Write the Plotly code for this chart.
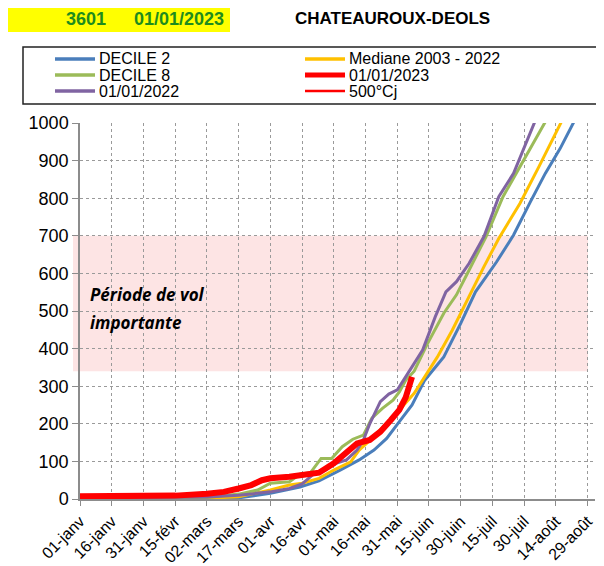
import plotly.graph_objects as go

# ---------------- data (day of year from 01-janv, cumulated degree-days) -------------
tick_days = [0, 15, 30, 45, 60, 75, 90, 105, 120, 135, 150, 165, 180, 195, 210, 225, 240]
tick_labels = ["01-janv", "16-janv", "31-janv", "15-févr", "02-mars", "17-mars", "01-avr",
               "16-avr", "01-mai", "16-mai", "31-mai", "15-juin", "30-juin", "15-juil",
               "30-juil", "14-août", "29-août"]

decile2_days = [0, 30, 60, 75, 90, 104, 113, 123, 132, 139, 145, 151, 157, 163, 172, 180,
                187, 197, 205, 213, 220, 227, 233, 236]
decile2_vals = [0, 0, 1, 3, 15, 32, 48, 77, 104, 130, 161, 206, 250, 316, 378, 467,
                551, 631, 702, 791, 866, 932, 999, 1030]

median_days = [0, 55, 60, 75, 90, 99, 105, 113, 120, 128, 132, 139, 145, 151, 158, 162,
               169, 176, 183, 191, 198, 208, 217, 227, 230]
median_vals = [0, 0, 2, 6, 24, 37, 42, 55, 77, 99, 130, 166, 201, 237, 281, 316,
               378, 449, 529, 618, 693, 786, 884, 1000, 1030]

decile8_days = [0, 60, 75, 84, 90, 99, 104, 109, 114, 119, 124, 129, 134, 138, 143, 148,
                151, 154, 158, 164, 172, 178, 184, 192, 200, 208, 214, 220, 222]
decile8_vals = [3, 4, 13, 24, 42, 46, 66, 70, 108, 108, 139, 159, 170, 215, 241, 263,
                285, 316, 340, 410, 494, 543, 609, 698, 804, 884, 946, 1003, 1030]

y2022_days = [0, 60, 75, 90, 99, 105, 110, 116, 121, 126, 131, 134, 137, 142, 146, 150,
              153, 157, 162, 168, 173, 178, 184, 191, 198, 205, 211, 215, 217]
y2022_vals = [3, 5, 10, 19, 28, 40, 64, 77, 95, 104, 130, 157, 200, 259, 279, 290,
              316, 350, 396, 485, 551, 578, 627, 698, 804, 866, 946, 1003, 1030]

y2023_days = [0, 45, 60, 68, 75, 81, 86, 90, 99, 104, 113, 120, 126, 131, 137, 142, 147,
              151, 154, 157]
y2023_vals = [7, 9, 14, 19, 28, 37, 50, 55, 59, 62, 70, 95, 126, 148, 157, 179, 210,
              237, 270, 325]

band_low, band_high = 340, 700
band_text = ["Période de vol", "importante"]

names = ["DECILE 2", "Mediane 2003 - 2022", "DECILE 8", "01/01/2023", "01/01/2022", "500°Cj"]
colors = ["#4A7EBB", "#FFC000", "#9BBB59", "#FF0000", "#8064A2", "#FF0000"]

# ---------------- layout geometry ----------------
# the page body has an 8px margin, so the figure is placed at (8, 8) in the window
OFF = 8
W, H = 604 - OFF, 566 - OFF
L, T = 80 - OFF, 123 - OFF
PW, PH = 515, 376
R, B = W - L - PW, H - T - PH
X_MAX = 243.5


def px(x):  # window pixel -> paper x
    return (x - OFF - L) / PW


def py(y):  # window pixel -> paper y
    return (T + PH - (y - OFF)) / PH


fig = go.Figure()

series = [
    (decile2_days, decile2_vals, 0, 3),
    (median_days, median_vals, 1, 3),
    (decile8_days, decile8_vals, 2, 3),
    (y2022_days, y2022_vals, 4, 3),
    (y2023_days, y2023_vals, 3, 6),
]
for d, v, i, w in series:
    fig.add_trace(go.Scatter(x=d, y=v, mode="lines", name=names[i],
                             line=dict(color=colors[i], width=w), showlegend=False))

shapes = []
# pink band
shapes.append(dict(type="rect", xref="paper", yref="y", x0=px(73), x1=px(588),
                   y0=band_low, y1=band_high, fillcolor="#FDE4E4", line=dict(width=0),
                   layer="below"))
# yellow title box
shapes.append(dict(type="rect", xref="paper", yref="paper", x0=px(3), x1=px(230),
                   y0=py(32), y1=py(5), fillcolor="#FFFF00", line=dict(width=0)))
# legend box
shapes.append(dict(type="rect", xref="paper", yref="paper", x0=px(23), x1=px(612),
                   y0=py(104), y1=py(47), line=dict(color="#222222", width=1.5),
                   fillcolor="rgba(0,0,0,0)"))

annotations = []
# legend entries (manual, two columns)
legend_pos = [(55, 59), (305, 59), (55, 75), (305, 75), (55, 91), (305, 91)]
for i, (lx, ly) in enumerate(legend_pos):
    lw = 5 if names[i] == "01/01/2023" else 3.5
    if names[i] == "500°Cj":
        lw = 2.5
    shapes.append(dict(type="line", xref="paper", yref="paper", x0=px(lx), x1=px(lx + 40),
                       y0=py(ly), y1=py(ly), line=dict(color=colors[i], width=lw)))
    annotations.append(dict(x=px(lx + 42), y=py(ly), xref="paper", yref="paper",
                            text=names[i], showarrow=False, xanchor="left", yanchor="middle",
                            font=dict(family="Liberation Sans, Arial", size=16, color="#000")))

annotations += [
    dict(x=px(86), y=py(19), xref="paper", yref="paper", text="<b>3601</b>", showarrow=False,
         xanchor="center", yanchor="middle",
         font=dict(family="Liberation Sans, Arial", size=18, color="#1E8C1E")),
    dict(x=px(179), y=py(19), xref="paper", yref="paper", text="<b>01/01/2023</b>",
         showarrow=False, xanchor="center", yanchor="middle",
         font=dict(family="Liberation Sans, Arial", size=18, color="#1E8C1E")),
    dict(x=px(392), y=py(19), xref="paper", yref="paper", text="<b>CHATEAUROUX-DEOLS</b>",
         showarrow=False, xanchor="center", yanchor="middle",
         font=dict(family="Liberation Sans, Arial", size=17, color="#000")),
]
for line_txt, ly in zip(band_text, [294, 322]):
    annotations.append(dict(x=px(88), y=py(ly), xref="paper", yref="paper",
                            text="<b><i>" + line_txt + "</i></b>", showarrow=False,
                            xanchor="left", yanchor="middle",
                            font=dict(family="Open Sans", size=17, color="#000")))

fig.update_layout(
    width=W, height=H,
    margin=dict(l=L, r=R, t=T, b=B, pad=0),
    paper_bgcolor="white", plot_bgcolor="rgba(0,0,0,0)",
    shapes=shapes, annotations=annotations, showlegend=False,
    xaxis=dict(range=[0, X_MAX], tickmode="array", tickvals=tick_days, ticktext=tick_labels,
               tickangle=-45, showgrid=True, gridcolor="#9A9A9A", griddash="dot", gridwidth=1,
               showline=True, linecolor="#8C8C8C", linewidth=1.5, ticks="outside",
               ticklen=5, tickcolor="#8C8C8C", zeroline=False, automargin=False,
               tickfont=dict(family="Liberation Sans, Arial", size=16, color="#000")),
    yaxis=dict(range=[0, 1000], tickmode="linear", tick0=0, dtick=100, showgrid=True,
               gridcolor="#9A9A9A", griddash="dot", gridwidth=1, showline=True,
               linecolor="#8C8C8C", linewidth=1.5, ticks="outside", ticklen=6,
               tickcolor="#8C8C8C", zeroline=False, automargin=False,
               tickfont=dict(family="Liberation Sans, Arial", size=18, color="#000")),
)

fig.write_html("out.html")
